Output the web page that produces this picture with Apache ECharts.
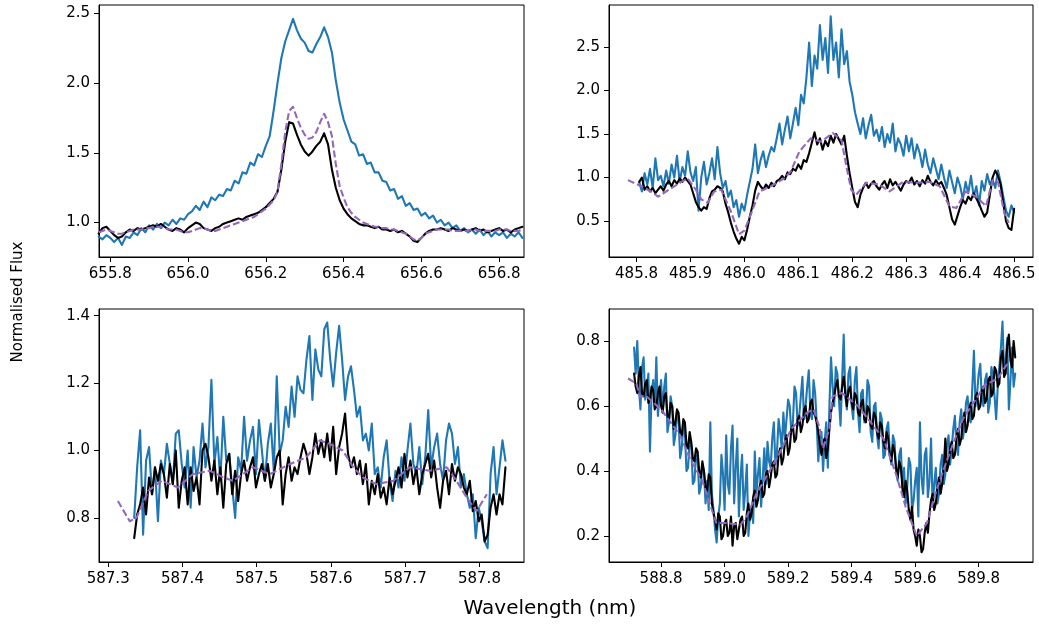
<!DOCTYPE html>
<html>
<head>
<meta charset="utf-8">
<script src="https://cdn.jsdelivr.net/npm/echarts@6/dist/echarts.min.js"></script>
<style>
  html, body { margin: 0; padding: 0; background: #fff; }
  #main { width: 1039px; height: 628px; }
</style>
</head>
<body>
<div id="main"></div>
<script>
// ---- H-alpha panel (top left), sampled every 0.01 nm from 655.77 ----
const p1Start = 655.77, p1Step = 0.01;
const p1Blue = [
  0.90, 0.88, 0.91, 0.89,
  0.86, 0.89, 0.84, 0.90, 0.89, 0.93, 0.91, 0.96, 0.93, 0.98,
  0.95, 0.99, 0.96, 1.00, 0.98, 1.02, 0.99, 1.03, 1.02, 1.06,
  1.08, 1.12, 1.09, 1.15, 1.11, 1.18, 1.16, 1.20, 1.19, 1.24,
  1.23, 1.30, 1.28, 1.36, 1.35, 1.43, 1.41, 1.49, 1.47, 1.55,
  1.62, 1.80, 2.00, 2.18, 2.30, 2.38, 2.46, 2.38, 2.32, 2.29,
  2.23, 2.22, 2.28, 2.33, 2.40, 2.33, 2.22, 2.02, 1.86, 1.74,
  1.66, 1.58, 1.56, 1.48, 1.49, 1.42, 1.43, 1.36, 1.36, 1.30,
  1.29, 1.23, 1.24, 1.17, 1.19, 1.12, 1.14, 1.09, 1.10, 1.05,
  1.07, 1.03, 1.05, 1.00, 1.02, 0.98, 1.00, 0.96, 0.98, 0.94,
  0.96, 0.93, 0.95, 0.92, 0.95, 0.91, 0.94, 0.90, 0.93, 0.91,
  0.93, 0.89, 0.92, 0.90, 0.93, 0.89
];
const p1Black = [
  0.92, 0.96, 0.97, 0.94,
  0.91, 0.89, 0.90, 0.93, 0.95, 0.94, 0.96, 0.95, 0.96, 0.97,
  0.98, 0.97, 0.99, 0.97, 0.95, 0.94, 0.96, 0.95, 0.93, 0.96,
  0.98, 1.00, 0.99, 0.96, 0.95, 0.94, 0.96, 0.97, 0.99, 1.00,
  1.01, 1.02, 1.03, 1.02, 1.04, 1.05, 1.06, 1.07, 1.09, 1.11,
  1.14, 1.17, 1.22, 1.38, 1.58, 1.72, 1.71, 1.63, 1.56, 1.51,
  1.48, 1.51, 1.55, 1.58, 1.64, 1.56, 1.38, 1.25, 1.16, 1.10,
  1.06, 1.03, 1.01, 0.99, 0.98, 0.98, 0.97, 0.96, 0.97, 0.95,
  0.95, 0.94, 0.95, 0.93, 0.94, 0.92, 0.90, 0.87, 0.86, 0.89,
  0.92, 0.94, 0.95, 0.95, 0.96, 0.95, 0.94, 0.96, 0.95, 0.94,
  0.95, 0.94, 0.95, 0.96, 0.94, 0.95, 0.93, 0.94, 0.95, 0.96,
  0.94, 0.95, 0.93, 0.95, 0.96, 0.97
];
const p1Model = [
  0.93, 0.94, 0.95, 0.94,
  0.93, 0.92, 0.92, 0.93, 0.94, 0.95, 0.95, 0.95, 0.96, 0.96,
  0.97, 0.97, 0.97, 0.96, 0.95, 0.95, 0.95, 0.94, 0.93, 0.93,
  0.94, 0.95, 0.96, 0.96, 0.95, 0.94, 0.94, 0.95, 0.96, 0.97,
  0.98, 0.99, 1.00, 1.01, 1.02, 1.03, 1.04, 1.06, 1.08, 1.10,
  1.13, 1.16, 1.22, 1.42, 1.65, 1.80, 1.83, 1.75, 1.68, 1.63,
  1.60, 1.61, 1.65, 1.72, 1.78, 1.72, 1.62, 1.42, 1.26, 1.18,
  1.11, 1.07, 1.04, 1.02, 1.00, 0.99, 0.98, 0.97, 0.97, 0.96,
  0.96, 0.95, 0.95, 0.94, 0.93, 0.92, 0.90, 0.88, 0.87, 0.89,
  0.92, 0.93, 0.94, 0.95, 0.95, 0.95, 0.95, 0.94, 0.94, 0.94,
  0.94, 0.94, 0.95, 0.95, 0.94, 0.94, 0.94, 0.94, 0.94, 0.95,
  0.95, 0.95, 0.94, 0.94, 0.94, 0.95
];

// ---- H-beta panel (top right), sampled every 0.005 nm from 485.805 ----
const p2Start = 485.805, p2Step = 0.005;
const p2Blue = [
  0.95, 0.84, 1.05, 0.92, 1.10, 0.88, 1.22, 0.97, 1.02, 0.90,
  1.08, 0.93, 1.15, 1.00, 1.25, 0.95, 1.12, 1.02, 1.30, 1.06,
  0.96, 1.12, 0.62, 1.00, 1.18, 0.92, 1.05, 1.22, 0.98, 1.35,
  1.05, 0.88, 0.96, 0.78, 0.85, 0.66, 0.74, 0.55, 0.70, 0.62,
  0.80, 0.95, 1.10, 1.38, 1.05, 1.20, 1.30, 1.12, 1.25, 1.35,
  1.30, 1.45, 1.62, 1.38, 1.55, 1.70, 1.45, 1.62, 1.80, 1.60,
  1.95, 1.85, 2.15, 2.55, 2.05, 2.40, 2.25, 2.75, 2.35, 2.60,
  2.20, 2.85, 2.35, 2.55, 2.15, 2.70, 2.30, 2.45, 2.10, 1.95,
  1.75, 1.62, 1.50, 1.68, 1.45, 1.60, 1.72, 1.48, 1.55, 1.42,
  1.58, 1.35, 1.50, 1.40, 1.62, 1.30, 1.45, 1.38, 1.25, 1.48,
  1.30, 1.45, 1.22, 1.38, 1.28, 1.12, 1.32, 1.15, 1.05, 1.22,
  1.10, 0.98, 1.15, 1.00, 0.88, 1.08, 0.95, 0.82, 1.00, 0.90,
  0.75, 0.95, 0.82, 1.02, 0.78, 0.90, 0.68, 0.96, 0.85, 1.04,
  0.92, 0.98, 0.88, 1.08, 0.95, 0.78, 0.62, 0.55, 0.68, 0.60
];
const p2Black = [
  0.95, 1.00, 0.86, 0.90, 0.84, 0.88, 0.82, 0.86, 0.90, 0.85,
  0.92, 0.96, 0.90, 0.97, 0.93, 0.99, 0.95, 1.00, 0.96, 0.92,
  0.82, 0.72, 0.66, 0.62, 0.66, 0.64, 0.76, 0.84, 0.86, 0.90,
  0.88, 0.84, 0.70, 0.60, 0.48, 0.38, 0.30, 0.24, 0.32, 0.28,
  0.40, 0.55, 0.68, 0.85, 0.95, 0.90, 0.86, 0.92, 0.88, 0.94,
  0.90, 0.96, 0.98, 1.02, 0.98, 1.06, 1.04, 1.10, 1.08, 1.15,
  1.10, 1.20, 1.18, 1.28, 1.40, 1.52, 1.38, 1.45, 1.32, 1.42,
  1.36, 1.48, 1.40, 1.50, 1.44, 1.38, 1.48, 1.25, 1.05, 0.88,
  0.72, 0.66, 0.80, 0.88, 0.94, 0.88, 0.93, 0.96, 0.90, 0.86,
  0.92, 0.96, 0.88, 0.98, 0.91, 0.95, 0.90, 0.85, 0.92, 0.96,
  0.94, 1.00, 0.92, 0.96, 0.90, 0.97, 0.93, 1.02, 0.95, 0.91,
  0.97, 0.92, 0.95, 0.88, 0.80, 0.66, 0.52, 0.46, 0.56, 0.66,
  0.74, 0.70, 0.78, 0.74, 0.82, 0.76, 0.70, 0.62, 0.55, 0.60,
  0.80, 1.00, 1.08, 1.02, 0.92, 0.70, 0.50, 0.42, 0.40, 0.64
];
const p2ModelWl = [
  485.784, 485.802, 485.827, 485.840, 485.860, 485.883, 485.895, 485.910, 485.920, 485.932,
  485.944, 485.957, 485.975, 485.990, 486.000, 486.012, 486.028, 486.049, 486.074, 486.086,
  486.102, 486.123, 486.142, 486.164, 486.180, 486.189, 486.198, 486.207, 486.226, 486.250,
  486.269, 486.294, 486.319, 486.343, 486.362, 486.380, 486.393, 486.410, 486.430, 486.448,
  486.460, 486.470, 486.482, 486.490
];
const p2Model = [
  0.97, 0.92, 0.84, 0.78, 0.86, 0.95, 0.99, 0.86, 0.75, 0.71,
  0.84, 0.86, 0.61, 0.35, 0.39, 0.58, 0.84, 0.90, 0.99, 1.07,
  1.30, 1.45, 1.41, 1.51, 1.43, 1.13, 0.86, 0.80, 0.94, 0.92,
  0.84, 0.95, 0.94, 0.95, 0.90, 0.67, 0.65, 0.84, 0.78, 0.67,
  0.97, 0.95, 0.59, 0.48
];

// ---- He I panel (bottom left), sampled every 0.004 nm from 587.335 ----
const p3Start = 587.335, p3Step = 0.004;
const p3Blue = [
  0.80, 0.95, 1.06, 0.75, 0.97, 1.01, 0.87, 0.95, 0.79, 0.97,
  0.93, 1.02, 0.96, 0.90, 1.05, 1.06, 0.96, 0.89, 1.00, 0.83,
  1.01, 0.92, 0.97, 1.08, 0.95, 1.01, 1.21, 0.96, 1.04, 0.91,
  1.10, 0.97, 0.99, 0.89, 0.80, 0.98, 0.94, 1.10, 0.97, 1.03,
  1.07, 0.93, 1.09, 1.00, 0.91, 1.02, 1.08, 0.94, 1.22, 0.99,
  1.03, 1.13, 1.07, 1.19, 1.10, 1.22, 1.18, 1.17, 1.27, 1.34,
  1.15, 1.30, 1.24, 1.22, 1.36, 1.38, 1.27, 1.19, 1.29, 1.37,
  1.27, 1.15, 1.22, 1.25, 1.18, 1.10, 1.13, 1.03, 1.05, 1.00,
  1.08, 0.93, 0.95, 0.89, 0.98, 1.03, 0.91, 0.85, 0.94, 0.89,
  0.98, 0.91, 1.00, 1.08, 0.96, 0.93, 1.01, 0.90, 0.98, 1.12,
  0.95, 1.01, 1.05, 0.96, 0.91, 1.03, 1.08, 1.05, 0.96, 1.01,
  0.89, 0.93, 0.87, 0.83, 0.87, 0.74, 0.83, 0.79, 0.73, 0.71,
  0.93, 1.01, 0.87, 0.95, 1.03, 0.97
];
const p3Black = [
  0.74, 0.81, 0.84, 0.89, 0.81, 0.92, 0.87, 0.95, 0.91, 0.96,
  0.93, 0.86, 0.96, 0.90, 1.00, 0.83, 0.91, 0.95, 0.84, 0.95,
  0.88, 0.92, 0.84, 1.00, 1.02, 0.98, 0.91, 0.97, 0.87, 0.95,
  0.83, 0.96, 0.99, 0.87, 0.94, 0.85, 0.93, 0.97, 0.91, 0.95,
  0.98, 0.89, 0.93, 0.96, 0.91, 0.96, 0.89, 0.93, 0.98, 1.00,
  0.84, 0.93, 0.98, 0.91, 0.95, 0.93, 0.98, 1.02, 0.99, 0.93,
  0.98, 1.05, 0.99, 1.03, 0.98, 1.05, 0.97, 1.07, 0.93, 1.01,
  1.05, 1.11, 0.99, 0.95, 0.98, 0.93, 0.97, 0.90, 0.96, 0.84,
  0.91, 0.87, 0.93, 0.86, 0.89, 0.84, 0.92, 0.87, 0.91, 0.95,
  0.89, 0.99, 0.92, 0.97, 0.90, 0.95, 0.87, 0.93, 0.96, 0.99,
  0.92, 0.97, 0.89, 0.83, 0.91, 0.94, 0.87, 0.96, 0.91, 0.95,
  0.93, 0.89, 0.87, 0.91, 0.82, 0.85, 0.79, 0.81, 0.73, 0.75,
  0.83, 0.87, 0.81, 0.87, 0.84, 0.95
];
const p3ModelWl = [
  587.313, 587.329, 587.338, 587.354, 587.372, 587.394, 587.414, 587.437, 587.455, 587.468,
  587.495, 587.518, 587.545, 587.567, 587.585, 587.598, 587.616, 587.630, 587.643, 587.661,
  587.684, 587.706, 587.733, 587.756, 587.769, 587.783, 587.796, 587.810
];
const p3Model = [
  0.85, 0.79, 0.80, 0.88, 0.91, 0.89, 0.93, 0.94, 0.92, 0.91,
  0.95, 0.93, 0.96, 0.98, 1.03, 1.02, 1.00, 0.95, 0.92, 0.90,
  0.91, 0.95, 0.94, 0.95, 0.91, 0.86, 0.82, 0.87
];

// ---- Na D panel (bottom right), sampled every 0.005 nm from 588.715 ----
const p4Start = 588.715, p4Step = 0.005;
const p4Blue = [
  0.78, 0.70, 0.80, 0.66, 0.59, 0.72, 0.75, 0.62, 0.65, 0.70, 0.46, 0.64, 0.68, 0.60, 0.75, 0.57, 0.63, 0.68, 0.58, 0.66,
  0.70, 0.52, 0.55, 0.63, 0.60, 0.48, 0.51, 0.58, 0.56, 0.44, 0.47, 0.54, 0.52, 0.40, 0.41, 0.50, 0.48, 0.36, 0.37, 0.45,
  0.44, 0.33, 0.35, 0.42, 0.40, 0.30, 0.37, 0.28, 0.55, 0.33, 0.28, 0.22, 0.18, 0.26, 0.30, 0.45, 0.39, 0.28, 0.51, 0.36,
  0.33, 0.47, 0.54, 0.30, 0.41, 0.50, 0.26, 0.38, 0.45, 0.28, 0.34, 0.42, 0.20, 0.27, 0.29, 0.24, 0.46, 0.33, 0.39, 0.44,
  0.29, 0.38, 0.47, 0.36, 0.49, 0.43, 0.41, 0.50, 0.55, 0.42, 0.46, 0.56, 0.52, 0.47, 0.58, 0.50, 0.50, 0.62, 0.60, 0.52,
  0.55, 0.66, 0.64, 0.54, 0.57, 0.63, 0.69, 0.56, 0.60, 0.66, 0.71, 0.58, 0.56, 0.68, 0.64, 0.55, 0.43, 0.50, 0.52, 0.40,
  0.49, 0.55, 0.41, 0.60, 0.75, 0.66, 0.60, 0.72, 0.70, 0.62, 0.54, 0.68, 0.82, 0.63, 0.59, 0.70, 0.72, 0.60, 0.56, 0.68,
  0.72, 0.58, 0.52, 0.64, 0.65, 0.55, 0.57, 0.68, 0.66, 0.52, 0.49, 0.60, 0.61, 0.51, 0.47, 0.58, 0.56, 0.44, 0.45, 0.53,
  0.55, 0.46, 0.42, 0.51, 0.49, 0.40, 0.37, 0.45, 0.47, 0.34, 0.41, 0.30, 0.35, 0.44, 0.42, 0.28, 0.31, 0.37, 0.41, 0.26,
  0.55, 0.38, 0.33, 0.45, 0.47, 0.32, 0.37, 0.50, 0.29, 0.36, 0.41, 0.30, 0.33, 0.42, 0.45, 0.36, 0.39, 0.48, 0.51, 0.42,
  0.47, 0.53, 0.57, 0.48, 0.45, 0.55, 0.59, 0.50, 0.53, 0.61, 0.63, 0.56, 0.55, 0.66, 0.77, 0.60, 0.64, 0.70, 0.73, 0.62,
  0.60, 0.68, 0.70, 0.58, 0.61, 0.72, 0.69, 0.63, 0.56, 0.66, 0.72, 0.78, 0.86, 0.70, 0.74, 0.81, 0.59, 0.68, 0.78, 0.66,
  0.70
];
const p4Black = [
  0.70, 0.66, 0.64, 0.69, 0.72, 0.64, 0.63, 0.67, 0.68, 0.61, 0.62, 0.66, 0.65, 0.59, 0.60, 0.64, 0.66, 0.60, 0.58, 0.63,
  0.64, 0.57, 0.56, 0.61, 0.60, 0.53, 0.55, 0.59, 0.58, 0.52, 0.51, 0.56, 0.55, 0.48, 0.47, 0.52, 0.49, 0.44, 0.43, 0.47,
  0.46, 0.40, 0.38, 0.43, 0.40, 0.35, 0.34, 0.39, 0.38, 0.30, 0.27, 0.25, 0.22, 0.27, 0.26, 0.19, 0.20, 0.24, 0.25, 0.20,
  0.21, 0.26, 0.17, 0.23, 0.24, 0.19, 0.22, 0.25, 0.26, 0.20, 0.21, 0.27, 0.30, 0.25, 0.27, 0.32, 0.34, 0.29, 0.31, 0.35,
  0.37, 0.32, 0.33, 0.39, 0.40, 0.35, 0.38, 0.42, 0.43, 0.38, 0.39, 0.45, 0.47, 0.42, 0.44, 0.49, 0.51, 0.45, 0.47, 0.53,
  0.54, 0.49, 0.50, 0.56, 0.57, 0.52, 0.54, 0.59, 0.60, 0.55, 0.56, 0.61, 0.62, 0.58, 0.57, 0.55, 0.52, 0.48, 0.45, 0.49,
  0.50, 0.44, 0.47, 0.53, 0.58, 0.61, 0.63, 0.66, 0.68, 0.63, 0.62, 0.66, 0.69, 0.64, 0.60, 0.65, 0.66, 0.61, 0.59, 0.64,
  0.63, 0.58, 0.57, 0.61, 0.62, 0.56, 0.55, 0.60, 0.59, 0.54, 0.53, 0.58, 0.57, 0.52, 0.50, 0.55, 0.54, 0.49, 0.47, 0.52,
  0.50, 0.45, 0.43, 0.48, 0.46, 0.41, 0.38, 0.43, 0.41, 0.35, 0.32, 0.37, 0.34, 0.28, 0.25, 0.29, 0.22, 0.20, 0.17, 0.22,
  0.20, 0.15, 0.16, 0.21, 0.24, 0.21, 0.27, 0.31, 0.33, 0.28, 0.30, 0.35, 0.38, 0.33, 0.36, 0.41, 0.50, 0.40, 0.42, 0.47,
  0.49, 0.44, 0.45, 0.50, 0.53, 0.48, 0.50, 0.55, 0.58, 0.52, 0.54, 0.59, 0.61, 0.56, 0.57, 0.63, 0.64, 0.59, 0.60, 0.65,
  0.66, 0.61, 0.62, 0.68, 0.69, 0.63, 0.64, 0.72, 0.71, 0.66, 0.67, 0.75, 0.77, 0.69, 0.70, 0.79, 0.82, 0.74, 0.72, 0.80,
  0.75
];
const p4ModelWl = [
  588.696, 588.722, 588.733, 588.754, 588.800, 588.860, 588.890, 588.930, 588.960, 588.974,
  589.000, 589.050, 589.070, 589.100, 589.130, 589.170, 589.210, 589.260, 589.280, 589.300,
  589.310, 589.330, 589.340, 589.370, 589.420, 589.460, 589.500, 589.540, 589.570, 589.605,
  589.637, 589.670, 589.710, 589.750, 589.790, 589.820, 589.860, 589.890
];
const p4Model = [
  0.685, 0.67, 0.63, 0.63, 0.59, 0.51, 0.44, 0.37, 0.28, 0.24,
  0.24, 0.235, 0.26, 0.33, 0.38, 0.45, 0.53, 0.58, 0.59, 0.53,
  0.47, 0.53, 0.63, 0.64, 0.60, 0.55, 0.50, 0.39, 0.29, 0.20,
  0.24, 0.35, 0.46, 0.56, 0.62, 0.665, 0.685, 0.73
];

// tick labels
const p1XTicks = [655.8, 656.0, 656.2, 656.4, 656.6, 656.8];
const p1YTicks = [1.0, 1.5, 2.0, 2.5];
const p2XTicks = [485.8, 485.9, 486.0, 486.1, 486.2, 486.3, 486.4, 486.5];
const p2YTicks = [0.5, 1.0, 1.5, 2.0, 2.5];
const p3XTicks = [587.3, 587.4, 587.5, 587.6, 587.7, 587.8];
const p3YTicks = [0.8, 1.0, 1.2, 1.4];
const p4XTicks = [588.8, 589.0, 589.2, 589.4, 589.6, 589.8];
const p4YTicks = [0.2, 0.4, 0.6, 0.8];

const BLUE = '#1f77b4', BLACK = '#000000', PURPLE = '#9467bd';
const FONT = 'DejaVu Sans';

function onGrid(start, step, vals) {
    return vals.map((v, i) => [+(start + i * step).toFixed(4), v]);
}
function zipXY(xs, ys) {
    return xs.map((x, i) => [x, ys[i]]);
}

const panels = [
    { box: { left: 99, top: 5, width: 425, height: 252 }, xr: [655.771, 656.864], yr: [0.753, 2.56],
      xt: p1XTicks, yt: p1YTicks,
      blue: onGrid(p1Start, p1Step, p1Blue), black: onGrid(p1Start, p1Step, p1Black), model: onGrid(p1Start, p1Step, p1Model) },
    { box: { left: 609, top: 5, width: 424, height: 252 }, xr: [485.749, 486.535], yr: [0.088, 2.98],
      xt: p2XTicks, yt: p2YTicks,
      blue: onGrid(p2Start, p2Step, p2Blue), black: onGrid(p2Start, p2Step, p2Black), model: zipXY(p2ModelWl, p2Model) },
    { box: { left: 99, top: 309, width: 425, height: 253 }, xr: [587.2876, 587.860], yr: [0.669, 1.42],
      xt: p3XTicks, yt: p3YTicks,
      blue: onGrid(p3Start, p3Step, p3Blue), black: onGrid(p3Start, p3Step, p3Black), model: zipXY(p3ModelWl, p3Model) },
    { box: { left: 609, top: 309, width: 424, height: 253 }, xr: [588.636, 589.971], yr: [0.12, 0.899],
      xt: p4XTicks, yt: p4YTicks,
      blue: onGrid(p4Start, p4Step, p4Blue), black: onGrid(p4Start, p4Step, p4Black), model: zipXY(p4ModelWl, p4Model) }
];

function axis(i, range, ticks, isX) {
    return {
        type: 'value', gridIndex: i, min: range[0], max: range[1],
        position: isX ? 'bottom' : 'left',
        axisLine: { show: true, onZero: false, lineStyle: { color: '#000', width: 1 } },
        splitLine: { show: false },
        axisTick: { show: true, inside: false, length: 5, customValues: ticks, lineStyle: { color: '#000', width: 1 } },
        axisLabel: { customValues: ticks, formatter: v => v.toFixed(1), fontSize: 15, fontFamily: FONT,
                     color: '#000', margin: isX ? 10 : 9 }
    };
}

function line(i, data, color, dashed) {
    return {
        type: 'line', xAxisIndex: i, yAxisIndex: i, data: data,
        showSymbol: false, symbol: 'none', clip: true, silent: true,
        lineStyle: { color: color, width: 2.1, type: dashed ? [7, 3] : 'solid', join: 'round', cap: dashed ? 'butt' : 'round' }
    };
}

const chart = echarts.init(document.getElementById('main'));
const option = {
    animation: false,
    backgroundColor: '#fff',
    grid: panels.map(p => Object.assign({ show: true, borderColor: '#000', borderWidth: 1, backgroundColor: 'transparent' }, p.box)),
    xAxis: panels.map((p, i) => axis(i, p.xr, p.xt, true)),
    yAxis: panels.map((p, i) => axis(i, p.yr, p.yt, false)),
    series: [],
    graphic: [
        { type: 'text', x: 550, y: 609, style: { text: 'Wavelength (nm)', font: '20px "DejaVu Sans"', fill: '#000', align: 'center', verticalAlign: 'middle' } },
        { type: 'text', x: 18, y: 302, rotation: Math.PI / 2, style: { text: 'Normalised Flux', font: '15px "DejaVu Sans"', fill: '#000', align: 'center', verticalAlign: 'middle' } }
    ]
};
panels.forEach((p, i) => {
    option.series.push(line(i, p.blue, BLUE, false));
    option.series.push(line(i, p.black, BLACK, false));
    option.series.push(line(i, p.model, PURPLE, true));
});
chart.setOption(option);
</script>
</body>
</html>
